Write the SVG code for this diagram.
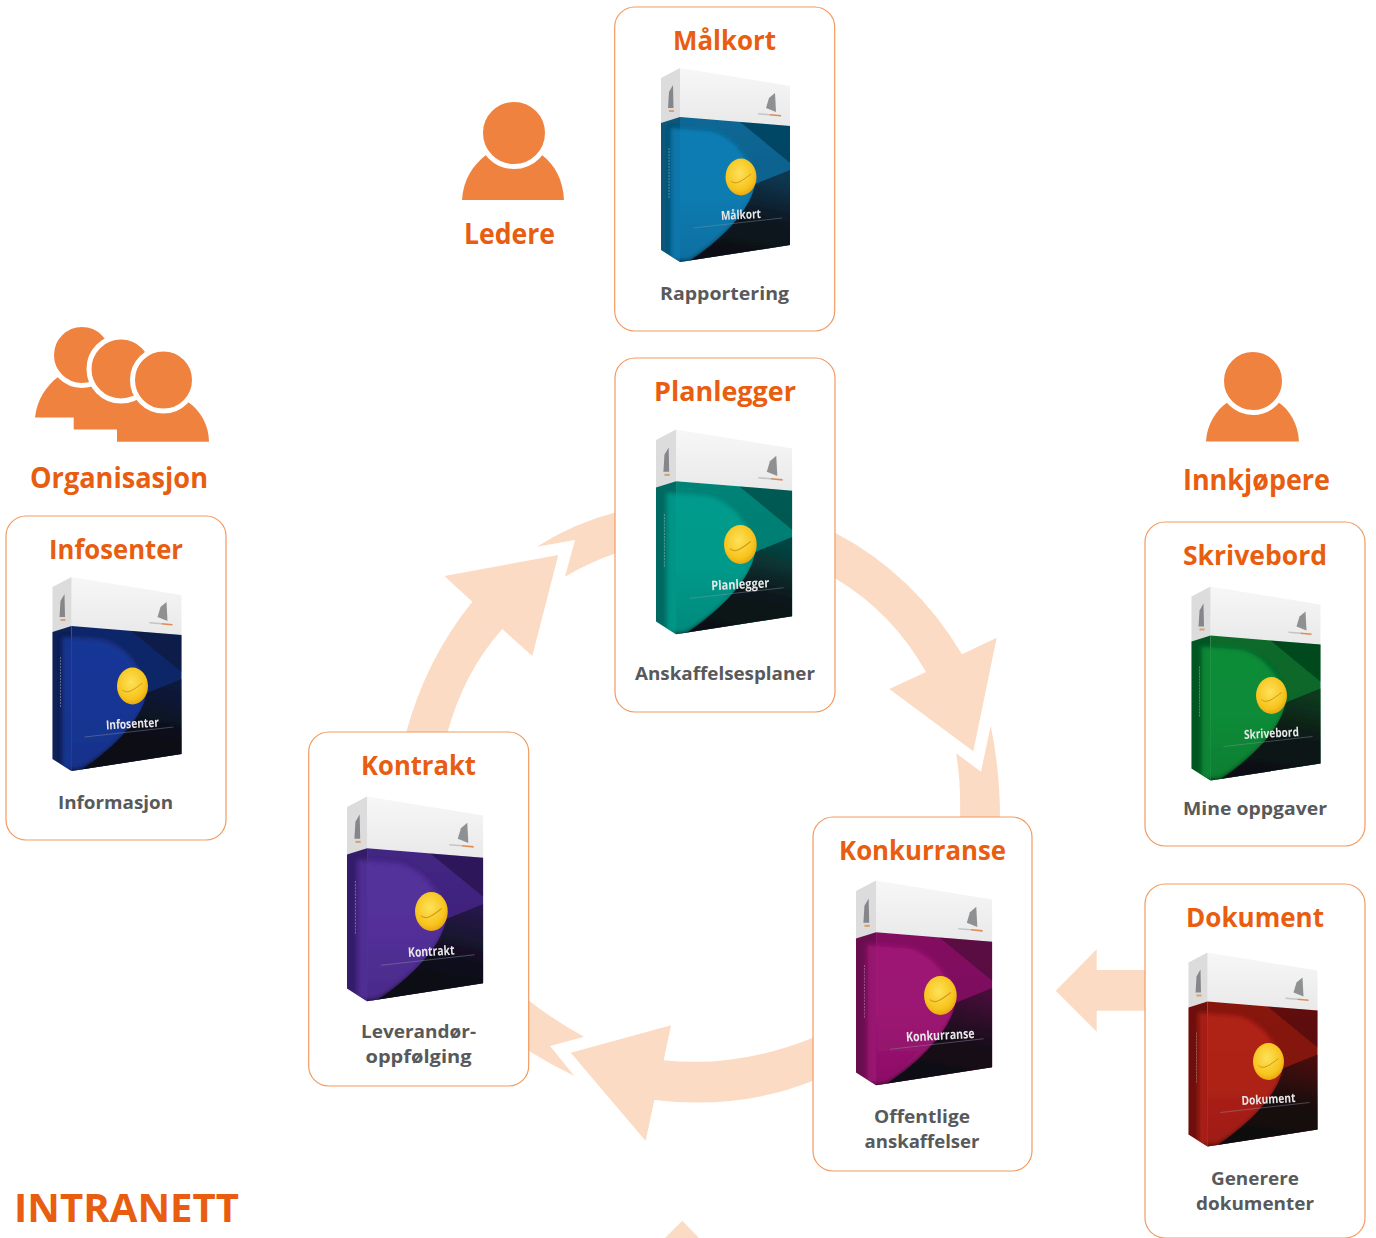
<svg xmlns="http://www.w3.org/2000/svg" width="1376" height="1238" viewBox="0 0 1376 1238">
<style>
text{font-family:"Open Sans","Noto Sans","Liberation Sans",sans-serif;font-weight:700;text-anchor:middle}
.card{fill:#fff;stroke:#f29a60;stroke-width:1.2}
.t{font-size:26.5px;fill:#e85d0f}
.s{font-size:18.3px;fill:#58595b}
.who{font-size:28px;fill:#e85d0f}
.arrow{fill:#fcdbc4}
.p{fill:#f08240}
.ph{fill:#f08240;stroke:#fff;stroke-width:5}
.bl{font-size:12.5px;fill:#e8e8e8;font-weight:700}
</style>
<defs>
<filter id="soft" x="-5%" y="-5%" width="110%" height="110%"><feGaussianBlur stdDeviation="0.55"/></filter>
<filter id="dome" x="-15%" y="-15%" width="130%" height="130%"><feGaussianBlur stdDeviation="2"/></filter>
<clipPath id="face"><path d="M0,55 L19,49 L129,58 L129,177 L19,194 L0,182Z"/></clipPath>
<linearGradient id="shade" x1="0" y1="0" x2="0" y2="1"><stop offset="0" stop-color="#000" stop-opacity=".05"/><stop offset=".55" stop-color="#000" stop-opacity=".1"/><stop offset="1" stop-color="#000" stop-opacity=".5"/></linearGradient>
<linearGradient id="night" x1="0.7" y1="0" x2="0.35" y2="1"><stop offset="0" stop-color="#0b0d12" stop-opacity=".5"/><stop offset=".5" stop-color="#0b0d12" stop-opacity=".88"/><stop offset="1" stop-color="#0b0d12" stop-opacity=".95"/></linearGradient>
<linearGradient id="white" x1="0" y1="0" x2="0" y2="1"><stop offset="0" stop-color="#f7f7f7"/><stop offset="1" stop-color="#e9e9ea"/></linearGradient>
<radialGradient id="coin" cx=".45" cy=".4" r=".65"><stop offset="0" stop-color="#fde25a"/><stop offset=".7" stop-color="#f7c41e"/><stop offset="1" stop-color="#e49f10"/></radialGradient>
<g id="boxart">
<path d="M19,0 L129,18 L129,58 L19,49Z" fill="url(#white)"/>
<path d="M0,10 L19,0 L19,49 L0,55Z" fill="#dcdcdd"/>
<path d="M7,40 L8,24 L12,17 L12.500,40Z" fill="#85868a"/>
<path d="M8,42 L13,42 L13,44 L8,44Z" fill="#d9a070"/>
<path d="M105,40 L108,30 L114,25 L115,44Z" fill="#8f9092"/>
<path d="M97,45 L109,46 L109,47.500 L97,46.500Z" fill="#c4c4c6"/>
<path d="M109,46 L120,47 L120,48.500 L109,47.500Z" fill="#e08a50"/>
<path d="M19,49 L129,58 L129,177 L19,194Z" style="fill:var(--c)"/>
<path d="M0,55 L19,49 L19,194 L0,182Z" style="fill:var(--c)"/>
<path d="M0,55 L19,49 L19,194 L0,182Z" fill="#000" opacity=".22"/>
<path d="M19,49 L129,58 L129,177 L19,194Z" fill="url(#shade)"/>
<g clip-path="url(#face)">
<path d="M10,60 L50,63 C76,70 92,96 94,116 C90,142 60,172 28,192 L10,192Z" style="fill:var(--l)" opacity=".72" filter="url(#dome)"/>
</g>
<path d="M79,54 L129,58 L129,95Z" fill="#000" opacity=".3"/>
<path d="M129,102 L94,116 C90,142 60,172 30,192 L19,194 L129,177Z" fill="url(#night)"/>
<ellipse cx="80" cy="109" rx="15.500" ry="18.500" fill="url(#coin)"/>
<path d="M70,113 C75,118 82,112 90,106" fill="none" stroke="#d39a12" stroke-width="1"/>
<path d="M32,160 L121,150" stroke="#8e97a4" stroke-width=".6" opacity=".7"/>
<path d="M8,80 L8,130" stroke="#ccc" stroke-width="1" stroke-dasharray="2 1" opacity=".4"/>
</g>
</defs>

<g id="connectors">
<path class="arrow" d="M406,733 Q426,659 472.300,601.700 L444.300,576 L558.300,555 L532.300,656 L502.300,629 Q464,672 447.300,733Z"/>
<path class="arrow" d="M537,546.700 Q574,523 616,512.300 L616,553.300 Q590,562 565,576.700 L575,540Z"/>
<path class="arrow" d="M835,532.700 Q914,574 962,654.300 L996.700,637.700 L973.300,751.300 L889.300,689 L926,672 Q892,612 835,578.300Z"/>
<path class="arrow" d="M956,753.300 L981,771.700 L990.700,725.700 Q1000,770 1000,818 L960,818 Q961,780 956,753.300Z"/>
<path class="arrow" d="M813,1037.700 Q738,1068 663.700,1060.300 L671,1025.300 L570.700,1052.700 L645.700,1141 L654.300,1100 Q740,1110 813,1080.700Z"/>
<path class="arrow" d="M528,1000 Q555,1021 584,1036.700 L550,1046 L574.300,1076 Q550,1064 528,1050.500Z"/>
<path class="arrow" d="M1055.700,990.700 L1096.700,949.300 L1096.700,970 L1146,970 L1146,1010.700 L1096.700,1010.700 L1096.700,1031.700Z"/>
<path class="arrow" d="M682.300,1220.700 L665,1238 L699,1238Z"/>
</g>

<g id="ledere">
<path class="p" d="M462,200 C463,180 473,165 486,155 L542,155 C555,165 563,180 564,200Z"/>
<circle class="ph" cx="514" cy="133" r="33.500"/>
<text class="who" x="509.500" y="243.500" textLength="91" lengthAdjust="spacingAndGlyphs">Ledere</text>
</g>
<g id="organisasjon">
<path class="p" d="M35,417.500 C37,400 46,386 58,377 L188,402 C200,410 209,425 209,441.700 L117,441.700 L117,429.500 L73.700,429.500 L73.700,417.500Z"/>
<circle class="ph" cx="82" cy="355" r="30.500"/>
<circle class="ph" cx="121" cy="369" r="32"/>
<circle class="ph" cx="163.500" cy="380" r="31"/>
<text class="who" x="119" y="487.500" textLength="178" lengthAdjust="spacingAndGlyphs">Organisasjon</text>
</g>
<g id="innkjopere">
<path class="p" d="M1206,441.500 C1207,424 1216,410 1228,402 L1278,402 C1290,410 1298,424 1299,441.500Z"/>
<circle class="ph" cx="1253" cy="381" r="31.500"/>
<text class="who" x="1256.500" y="489.500" textLength="147" lengthAdjust="spacingAndGlyphs">Innkjøpere</text>
</g>

<g id="malkort">
<rect class="card" x="614.700" y="7" width="220" height="324" rx="20"/>
<text class="t" x="724.500" y="50" textLength="103" lengthAdjust="spacingAndGlyphs">Målkort</text>
<g filter="url(#soft)" transform="translate(661,68)" style="--c:#0a6c9c;--l:#0b86c0"><use href="#boxart"/><text class="bl" x="80" y="151" transform="rotate(-3 80 149)" textLength="40" lengthAdjust="spacingAndGlyphs">Målkort</text></g>
<text class="s" x="724.500" y="300" textLength="129" lengthAdjust="spacingAndGlyphs">Rapportering</text>
</g>
<g id="planlegger">
<rect class="card" x="615" y="358" width="220" height="354" rx="20"/>
<text class="t" x="725" y="401" textLength="142" lengthAdjust="spacingAndGlyphs">Planlegger</text>
<g filter="url(#soft)" transform="translate(656,429.500) scale(1.055)" style="--c:#008a7e;--l:#00a595"><use href="#boxart"/><text class="bl" x="80" y="151" transform="rotate(-3 80 149)" textLength="55" lengthAdjust="spacingAndGlyphs">Planlegger</text></g>
<text class="s" x="725" y="680" textLength="180" lengthAdjust="spacingAndGlyphs">Anskaffelsesplaner</text>
</g>
<g id="infosenter">
<rect class="card" x="6" y="516" width="220" height="324" rx="20"/>
<text class="t" x="116" y="559" textLength="134" lengthAdjust="spacingAndGlyphs">Infosenter</text>
<g filter="url(#soft)" transform="translate(52.500,577)" style="--c:#122a70;--l:#1f3ea8"><use href="#boxart"/><text class="bl" x="80" y="151" transform="rotate(-3 80 149)" textLength="53" lengthAdjust="spacingAndGlyphs">Infosenter</text></g>
<text class="s" x="115.500" y="809" textLength="115" lengthAdjust="spacingAndGlyphs">Informasjon</text>
</g>
<g id="skrivebord">
<rect class="card" x="1145" y="522" width="220" height="324" rx="20"/>
<text class="t" x="1255" y="565" textLength="144" lengthAdjust="spacingAndGlyphs">Skrivebord</text>
<g filter="url(#soft)" transform="translate(1191.500,586.500)" style="--c:#08702e;--l:#0a9a3c"><use href="#boxart"/><text class="bl" x="80" y="151" transform="rotate(-3 80 149)" textLength="55" lengthAdjust="spacingAndGlyphs">Skrivebord</text></g>
<text class="s" x="1255" y="815" textLength="144" lengthAdjust="spacingAndGlyphs">Mine oppgaver</text>
</g>
<g id="dokument">
<rect class="card" x="1145" y="884" width="220" height="354" rx="20"/>
<text class="t" x="1255" y="927" textLength="138" lengthAdjust="spacingAndGlyphs">Dokument</text>
<g filter="url(#soft)" transform="translate(1188.500,952.500)" style="--c:#8f1610;--l:#c0261c"><use href="#boxart"/><text class="bl" x="80" y="151" transform="rotate(-3 80 149)" textLength="54" lengthAdjust="spacingAndGlyphs">Dokument</text></g>
<text class="s" x="1255" y="1185" textLength="88" lengthAdjust="spacingAndGlyphs">Generere</text>
<text class="s" x="1255" y="1210" textLength="118" lengthAdjust="spacingAndGlyphs">dokumenter</text>
</g>
<g id="konkurranse">
<rect class="card" x="813" y="817" width="219" height="354" rx="20"/>
<text class="t" x="922.500" y="860" textLength="167" lengthAdjust="spacingAndGlyphs">Konkurranse</text>
<g filter="url(#soft)" transform="translate(856,880.500) scale(1.055)" style="--c:#8a0f66;--l:#a8187c"><use href="#boxart"/><text class="bl" x="80" y="151" transform="rotate(-3 80 149)" textLength="65" lengthAdjust="spacingAndGlyphs">Konkurranse</text></g>
<text class="s" x="922" y="1123" textLength="96" lengthAdjust="spacingAndGlyphs">Offentlige</text>
<text class="s" x="922" y="1148" textLength="115" lengthAdjust="spacingAndGlyphs">anskaffelser</text>
</g>
<g id="kontrakt">
<rect class="card" x="308.700" y="732" width="220" height="354" rx="20"/>
<text class="t" x="418.500" y="775" textLength="115" lengthAdjust="spacingAndGlyphs">Kontrakt</text>
<g filter="url(#soft)" transform="translate(347,796.500) scale(1.055)" style="--c:#46278a;--l:#5a34a4"><use href="#boxart"/><text class="bl" x="80" y="151" transform="rotate(-3 80 149)" textLength="44" lengthAdjust="spacingAndGlyphs">Kontrakt</text></g>
<text class="s" x="418.500" y="1038" textLength="115" lengthAdjust="spacingAndGlyphs">Leverandør-</text>
<text class="s" x="418.500" y="1063" textLength="106" lengthAdjust="spacingAndGlyphs">oppfølging</text>
</g>
<text id="intranett" x="126.500" y="1222" textLength="225" lengthAdjust="spacingAndGlyphs" style="font-size:39px;fill:#e85d0f">INTRANETT</text>
</svg>
